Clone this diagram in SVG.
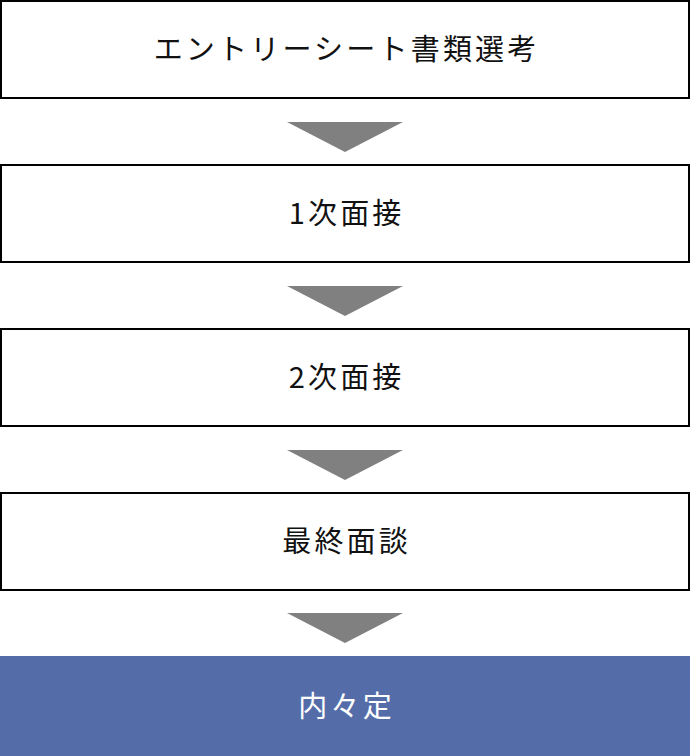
<svg xmlns="http://www.w3.org/2000/svg" width="690" height="756" viewBox="0 0 690 756">
<style>
.box{fill:#fff;stroke:#000;stroke-width:2}
.final{fill:#546da9}
.lbl{font-family:"Noto Sans CJK JP","Noto Sans",sans-serif;font-size:29px;letter-spacing:3.2px;text-anchor:middle;fill:#111}
.wlbl{fill:#fff}
.arr{fill:#808080}
</style>
<rect width="690" height="756" fill="#fff"/>
<g id="node1"><rect class="box" x="1" y="1" width="688" height="97"/><text class="lbl" x="346.6" y="60">エントリーシート書類選考</text></g>
<g id="node2"><rect class="box" x="1" y="165" width="688" height="97"/><text class="lbl" x="346.6" y="224">1次面接</text></g>
<g id="node3"><rect class="box" x="1" y="329" width="688" height="97"/><text class="lbl" x="346.6" y="388">2次面接</text></g>
<g id="node4"><rect class="box" x="1" y="493" width="688" height="97"/><text class="lbl" x="346.6" y="552">最終面談</text></g>
<g id="node5"><rect class="final" x="0" y="656" width="690" height="100"/><text class="lbl wlbl" x="346.6" y="716.5">内々定</text></g>
<g id="connectors">
<polygon class="arr" points="287,122 403,122 345,152"/>
<polygon class="arr" points="287,286 403,286 345,316"/>
<polygon class="arr" points="287,450 403,450 345,480"/>
<polygon class="arr" points="287,613 403,613 345,643"/>
</g>
</svg>
